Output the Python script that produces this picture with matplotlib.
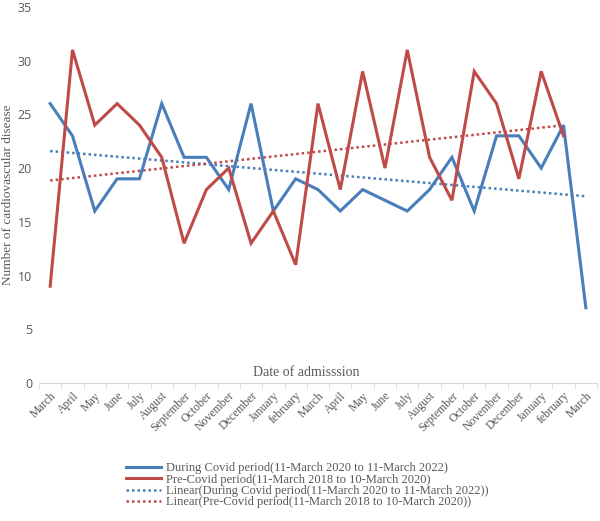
import numpy as np
import matplotlib
matplotlib.use("Agg")
import matplotlib.pyplot as plt
from matplotlib.lines import Line2D

months = ["March", "April", "May", "June", "July", "August", "September",
          "October", "November", "December", "January", "february",
          "March", "April", "May", "June", "July", "August", "September",
          "October", "November", "December", "January", "february", "March"]

during_covid = [26, 23, 16, 19, 19, 26, 21, 21, 18, 26, 16, 19,
                18, 16, 18, 17, 16, 18, 21, 16, 23, 23, 20, 24, 7]
pre_covid = [9, 31, 24, 26, 24, 21, 13, 18, 20, 13, 16, 11,
             26, 18, 29, 20, 31, 21, 17, 29, 26, 19, 29, 23]

labels = [
    "During Covid period(11-March 2020 to 11-March 2022)",
    "Pre-Covid period(11-March 2018 to 10-March 2020)",
    "Linear(During Covid period(11-March 2020 to 11-March 2022))",
    "Linear(Pre-Covid period(11-March 2018 to 10-March 2020))",
]

BLUE = "#4a7ebb"
RED = "#be4b48"
GREY = "#595959"
SERIF = "Liberation Serif"

fig = plt.figure(figsize=(6, 5.21), dpi=100)
ax = fig.add_axes([0.065, 0.265, 0.93, 0.7217])

x_d = np.arange(len(during_covid))
x_p = np.arange(len(pre_covid))

ax.plot(x_d, during_covid, color=BLUE, lw=2.2, solid_joinstyle="miter", zorder=3)
ax.plot(x_p, pre_covid, color=RED, lw=2.2, solid_joinstyle="miter", zorder=3)

# linear trend lines (least squares, as Excel does)
cd = np.polyfit(x_d, during_covid, 1)
cp = np.polyfit(x_p, pre_covid, 1)
ax.plot(x_d, np.polyval(cd, x_d), color=BLUE, lw=1.8, ls=(0, (1, 1.2)), zorder=2)
ax.plot(x_p, np.polyval(cp, x_p), color=RED, lw=1.8, ls=(0, (1, 1.2)), zorder=2)

ax.set_xlim(-0.5, len(months) - 0.5)
ax.set_ylim(0, 35)
ax.set_yticks(range(0, 36, 5))
ax.tick_params(axis="y", length=0, labelsize=9, labelcolor=GREY, pad=5)
for t in ax.get_yticklabels():
    t.set_fontfamily("Open Sans")

ax.set_xticks(np.arange(len(months)))
ax.set_xticklabels(months, rotation=45, ha="right", rotation_mode="anchor",
                   fontsize=8.5, color=GREY, fontfamily=SERIF)
ax.tick_params(axis="x", length=0, pad=5)
ax.set_xticks(np.arange(-0.5, len(months)), minor=True)
ax.tick_params(axis="x", which="minor", length=4, color="#d9d9d9")

for s in ["top", "right", "left"]:
    ax.spines[s].set_visible(False)
ax.spines["bottom"].set_color("#d9d9d9")

fig.text(8 / 600, 1 - 195 / 521, "Number of cardiovascular disease",
         rotation=90, ha="center", va="center", fontsize=9.5, color=GREY,
         fontfamily=SERIF)
fig.text(0.51, 1 - 372 / 521, "Date of admisssion", ha="center", va="center",
         fontsize=10, color=GREY, fontfamily=SERIF)

handles = [
    Line2D([], [], color=BLUE, lw=2.2),
    Line2D([], [], color=RED, lw=2.2),
    Line2D([], [], color=BLUE, lw=1.8, ls=(0, (1, 1.2))),
    Line2D([], [], color=RED, lw=1.8, ls=(0, (1, 1.2))),
]
leg = fig.legend(handles, labels, loc="upper left",
                 bbox_to_anchor=(0.2, 1 - 456 / 521), frameon=False,
                 prop={"family": SERIF, "size": 9}, labelspacing=-0.05,
                 handlelength=2.8, handletextpad=0.4, borderpad=0)
for t in leg.get_texts():
    t.set_color(GREY)

fig.savefig("out.png", dpi=100)
